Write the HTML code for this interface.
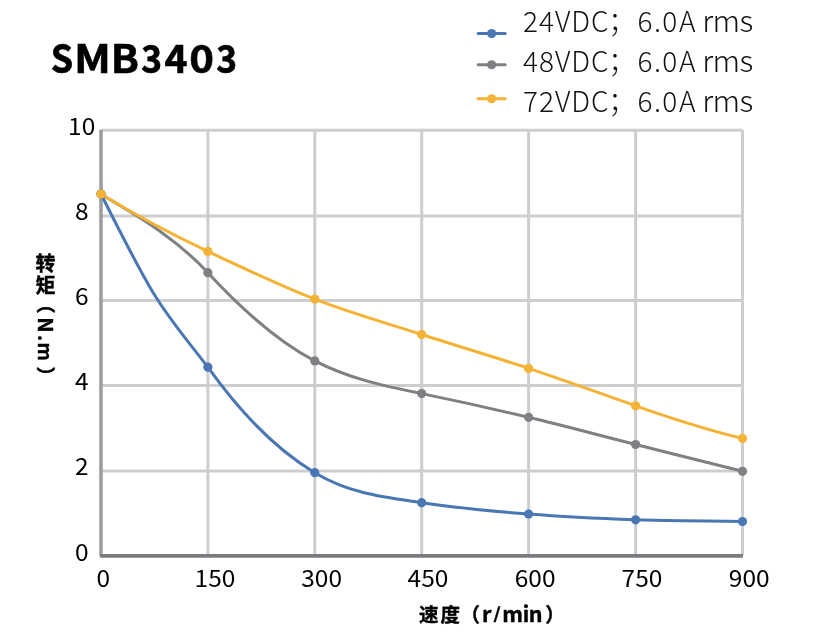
<!DOCTYPE html>
<html><head><meta charset="utf-8"><style>
html,body{margin:0;padding:0;background:#fff;}
body{width:831px;height:640px;overflow:hidden;position:relative;}
svg{position:absolute;left:0;top:0;will-change:transform;}
.g{stroke:#cdced0;stroke-width:3.0;}
.ax1{stroke:#9d9ea2;stroke-width:3.6;}
.ax2{stroke:#7a7b7f;stroke-width:3.6;}
text{font-family:"Liberation Sans","Noto Sans CJK SC",sans-serif;fill:#000;}
</style></head><body>
<svg width="831" height="640" viewBox="0 0 831 640">
<line x1="101" y1="130.3" x2="742.6" y2="130.3" class="g"/>
<line x1="101" y1="215.9" x2="742.6" y2="215.9" class="g"/>
<line x1="101" y1="300.6" x2="742.6" y2="300.6" class="g"/>
<line x1="101" y1="385.6" x2="742.6" y2="385.6" class="g"/>
<line x1="101" y1="471.0" x2="742.6" y2="471.0" class="g"/>
<line x1="207.9" y1="130" x2="207.9" y2="555" class="g"/>
<line x1="314.8" y1="130" x2="314.8" y2="555" class="g"/>
<line x1="421.7" y1="130" x2="421.7" y2="555" class="g"/>
<line x1="528.6" y1="130" x2="528.6" y2="555" class="g"/>
<line x1="635.6" y1="130" x2="635.6" y2="555" class="g"/>
<line x1="742.5" y1="130" x2="742.5" y2="555" class="g"/>
<line x1="101" y1="129.8" x2="101" y2="555.9" class="ax1"/>
<line x1="100.1" y1="555.9" x2="743" y2="555.9" class="ax2"/>
<path d="M101.0,194.0 C160.5,312.7 160.2,305.2 207.9,367.2 C243.5,417.1 279.2,451.3 314.8,472.7 C350.4,494.1 386.1,497.5 421.7,502.7 C457.3,507.9 493.0,511.3 528.6,514.1 C564.3,517.0 599.9,518.6 635.6,519.8 C671.2,521.0 706.9,520.9 742.5,521.5" fill="none" stroke="#4a77b4" stroke-width="3.0" stroke-linejoin="round" stroke-linecap="round"/>
<path d="M101.0,194.0 C124.2,209.1 170.3,232.1 207.9,272.7 C243.5,311.2 279.2,342.4 314.8,360.9 C350.4,379.4 386.1,386.3 421.7,393.6 C457.3,400.9 493.0,408.8 528.6,417.3 C564.3,425.8 599.9,435.5 635.6,444.5 C671.2,453.5 706.9,462.4 742.5,471.3" fill="none" stroke="#7f8083" stroke-width="3.0" stroke-linejoin="round" stroke-linecap="round"/>
<path d="M101.0,194.0 C136.6,215.7 172.3,234.6 207.9,251.4 C243.5,268.2 279.2,285.2 314.8,299.1 C350.4,313.0 386.1,322.9 421.7,334.5 C457.3,346.1 493.0,356.5 528.6,368.4 C564.3,380.3 599.9,393.3 635.6,405.8 C671.2,418.3 706.9,429.8 742.5,438.4" fill="none" stroke="#f5b335" stroke-width="3.0" stroke-linejoin="round" stroke-linecap="round"/>
<circle cx="101" cy="194" r="4.6" fill="#4a77b4"/>
<circle cx="207.9" cy="367.2" r="4.6" fill="#4a77b4"/>
<circle cx="314.8" cy="472.7" r="4.6" fill="#4a77b4"/>
<circle cx="421.7" cy="502.7" r="4.6" fill="#4a77b4"/>
<circle cx="528.6" cy="514.1" r="4.6" fill="#4a77b4"/>
<circle cx="635.6" cy="519.8" r="4.6" fill="#4a77b4"/>
<circle cx="742.5" cy="521.5" r="4.6" fill="#4a77b4"/>
<circle cx="101" cy="194" r="4.6" fill="#7f8083"/>
<circle cx="207.9" cy="272.7" r="4.6" fill="#7f8083"/>
<circle cx="314.8" cy="360.9" r="4.6" fill="#7f8083"/>
<circle cx="421.7" cy="393.6" r="4.6" fill="#7f8083"/>
<circle cx="528.6" cy="417.3" r="4.6" fill="#7f8083"/>
<circle cx="635.6" cy="444.5" r="4.6" fill="#7f8083"/>
<circle cx="742.5" cy="471.3" r="4.6" fill="#7f8083"/>
<circle cx="101" cy="194" r="4.6" fill="#f5b335"/>
<circle cx="207.9" cy="251.4" r="4.6" fill="#f5b335"/>
<circle cx="314.8" cy="299.1" r="4.6" fill="#f5b335"/>
<circle cx="421.7" cy="334.5" r="4.6" fill="#f5b335"/>
<circle cx="528.6" cy="368.4" r="4.6" fill="#f5b335"/>
<circle cx="635.6" cy="405.8" r="4.6" fill="#f5b335"/>
<circle cx="742.5" cy="438.4" r="4.6" fill="#f5b335"/>
<text y="72.5" style="font:700 39px 'Noto Sans CJK SC', sans-serif;stroke:#000;stroke-width:0.6px"><tspan x="50.63" textLength="22.43" lengthAdjust="spacingAndGlyphs">S</tspan><tspan x="74.00" textLength="36.91" lengthAdjust="spacingAndGlyphs">M</tspan><tspan x="110.88" textLength="28.16" lengthAdjust="spacingAndGlyphs">B</tspan><tspan x="141.16" textLength="20.89" lengthAdjust="spacingAndGlyphs">3</tspan><tspan x="164.60" textLength="23.02" lengthAdjust="spacingAndGlyphs">4</tspan><tspan x="189.27" textLength="24.78" lengthAdjust="spacingAndGlyphs">0</tspan><tspan x="216.36" textLength="20.89" lengthAdjust="spacingAndGlyphs">3</tspan></text>
<line x1="478.1" y1="33.6" x2="505.2" y2="33.6" stroke="#4a77b4" stroke-width="3.0" stroke-linecap="round"/>
<circle cx="491.65" cy="33.6" r="4.6" fill="#4a77b4"/>
<text y="31.9" style="font:300 28px 'Noto Sans CJK SC', sans-serif;fill:#111"><tspan x="523.0 538.9 555.1 571.2 591.0 608.1 637.6 654.0 662.2 678.9 700">24VDC；6.0A </tspan><tspan x="702.2 712.5 739.5" style="font-size:30.5px">rms</tspan></text>
<line x1="478.1" y1="64.75" x2="505.2" y2="64.75" stroke="#7f8083" stroke-width="3.0" stroke-linecap="round"/>
<circle cx="491.65" cy="64.75" r="4.6" fill="#7f8083"/>
<text y="71.9" style="font:300 28px 'Noto Sans CJK SC', sans-serif;fill:#111"><tspan x="523.0 538.9 555.1 571.2 591.0 608.1 637.6 654.0 662.2 678.9 700">48VDC；6.0A </tspan><tspan x="702.2 712.5 739.5" style="font-size:30.5px">rms</tspan></text>
<line x1="478.1" y1="98.75" x2="505.2" y2="98.75" stroke="#f5b335" stroke-width="3.0" stroke-linecap="round"/>
<circle cx="491.65" cy="98.75" r="4.6" fill="#f5b335"/>
<text y="111.5" style="font:300 28px 'Noto Sans CJK SC', sans-serif;fill:#111"><tspan x="523.0 538.9 555.1 571.2 591.0 608.1 637.6 654.0 662.2 678.9 700">72VDC；6.0A </tspan><tspan x="702.2 712.5 739.5" style="font-size:30.5px">rms</tspan></text>
<text transform="translate(81.7,126.60) scale(1,0.955)" x="0" y="8.9" text-anchor="middle" style="font:400 24.5px 'Noto Sans CJK SC', sans-serif">10</text>
<text transform="translate(81.7,211.70) scale(1,0.955)" x="0" y="8.9" text-anchor="middle" style="font:400 24.5px 'Noto Sans CJK SC', sans-serif">8</text>
<text transform="translate(81.7,296.70) scale(1,0.955)" x="0" y="8.9" text-anchor="middle" style="font:400 24.5px 'Noto Sans CJK SC', sans-serif">6</text>
<text transform="translate(81.7,381.80) scale(1,0.955)" x="0" y="8.9" text-anchor="middle" style="font:400 24.5px 'Noto Sans CJK SC', sans-serif">4</text>
<text transform="translate(81.7,466.90) scale(1,0.955)" x="0" y="8.9" text-anchor="middle" style="font:400 24.5px 'Noto Sans CJK SC', sans-serif">2</text>
<text transform="translate(81.7,552.00) scale(1,0.955)" x="0" y="8.9" text-anchor="middle" style="font:400 24.5px 'Noto Sans CJK SC', sans-serif">0</text>
<text transform="translate(103.2,578.90) scale(1,0.955)" x="0" y="8.9" text-anchor="middle" style="font:400 24.5px 'Noto Sans CJK SC', sans-serif">0</text>
<text transform="translate(215,578.90) scale(1,0.955)" x="0" y="8.9" text-anchor="middle" style="font:400 24.5px 'Noto Sans CJK SC', sans-serif">150</text>
<text transform="translate(321.6,578.90) scale(1,0.955)" x="0" y="8.9" text-anchor="middle" style="font:400 24.5px 'Noto Sans CJK SC', sans-serif">300</text>
<text transform="translate(428,578.90) scale(1,0.955)" x="0" y="8.9" text-anchor="middle" style="font:400 24.5px 'Noto Sans CJK SC', sans-serif">450</text>
<text transform="translate(535.1,578.90) scale(1,0.955)" x="0" y="8.9" text-anchor="middle" style="font:400 24.5px 'Noto Sans CJK SC', sans-serif">600</text>
<text transform="translate(642,578.90) scale(1,0.955)" x="0" y="8.9" text-anchor="middle" style="font:400 24.5px 'Noto Sans CJK SC', sans-serif">750</text>
<text transform="translate(749.2,578.90) scale(1,0.955)" x="0" y="8.9" text-anchor="middle" style="font:400 24.5px 'Noto Sans CJK SC', sans-serif">900</text>
<text y="621.6" style="font:700 19.5px 'Noto Sans CJK SC', sans-serif;stroke:#000;stroke-width:0.4px"><tspan x="419.1 440.4 460.6">速度（</tspan><tspan x="482.0" style="font-size:21.5px">r</tspan><tspan x="493.44" y="618.70" style="font-size:15.7px" textLength="7.22" lengthAdjust="spacingAndGlyphs">/</tspan><tspan x="502.3 522.8 528.7" y="621.6" style="font-size:21.5px">min</tspan><tspan x="545.2">）</tspan></text>
<text style="font:700 20px 'Noto Sans CJK SC', sans-serif;stroke:#000;stroke-width:0.4px"><tspan x="35.40" y="271.3">转</tspan><tspan x="35.40" y="293.3">矩</tspan><tspan rotate="90" x="38.1" y="294.50" style="font-size:19px">（</tspan><tspan rotate="90" x="38.1" y="317.30" style="font-size:20.5px">N</tspan><tspan rotate="90" x="38.1 38.1 38.1" y="335.1 342.4 366.5" style="font-size:19px">.m）</tspan></text>
</svg>
</body></html>
